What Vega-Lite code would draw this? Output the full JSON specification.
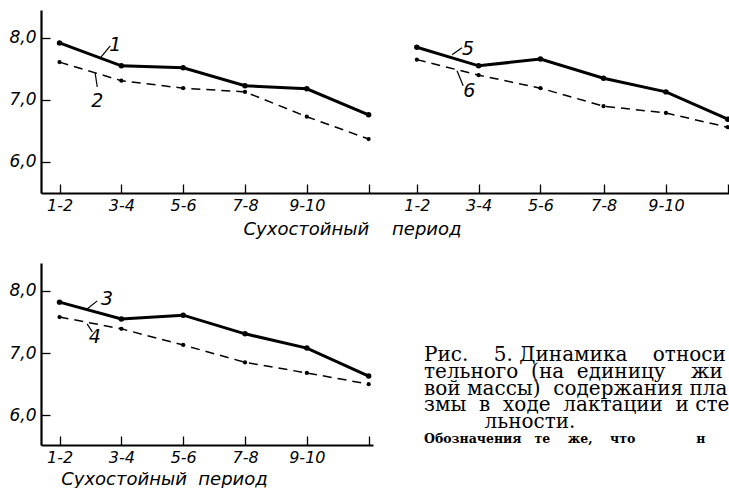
{
  "$schema": "https://vega.github.io/schema/vega-lite/v6.json",
  "padding": {"left": 8, "top": 10, "right": 0, "bottom": 0},
  "background": "white",
  "config": {
    "view": {"stroke": null},
    "axis": {
      "grid": false, "domainColor": "black", "domainWidth": 2.2,
      "tickColor": "black", "tickWidth": 1.3, "tickSize": -9,
      "labelFont": "DejaVu Sans", "labelFontStyle": "italic", "labelColor": "black",
      "labelFlush": false, "labelOverlap": false,
      "titleFont": "DejaVu Sans", "titleFontStyle": "italic", "titleFontWeight": "normal", "titleColor": "black"
    }
  },
  "datasets": {
    "top": [
      {"s": "1", "t": 0, "v": 7.92}, {"s": "1", "t": 1, "v": 7.55}, {"s": "1", "t": 2, "v": 7.52}, {"s": "1", "t": 3, "v": 7.23}, {"s": "1", "t": 4, "v": 7.18}, {"s": "1", "t": 5, "v": 6.76},
      {"s": "5", "t": 5.78, "v": 7.85}, {"s": "5", "t": 6.78, "v": 7.55}, {"s": "5", "t": 7.78, "v": 7.66}, {"s": "5", "t": 8.8, "v": 7.35}, {"s": "5", "t": 9.81, "v": 7.13}, {"s": "5", "t": 10.81, "v": 6.69}
    ],
    "topD": [
      {"s": "2", "t": 0, "v": 7.61}, {"s": "2", "t": 1, "v": 7.31}, {"s": "2", "t": 2, "v": 7.19}, {"s": "2", "t": 3, "v": 7.13}, {"s": "2", "t": 4, "v": 6.73}, {"s": "2", "t": 5, "v": 6.37},
      {"s": "6", "t": 5.78, "v": 7.65}, {"s": "6", "t": 6.78, "v": 7.40}, {"s": "6", "t": 7.78, "v": 7.19}, {"s": "6", "t": 8.8, "v": 6.90}, {"s": "6", "t": 9.81, "v": 6.79}, {"s": "6", "t": 10.81, "v": 6.56}
    ],
    "topLab": [
      {"label": "1", "t": 0.9, "v": 7.89}, {"label": "2", "t": 0.61, "v": 6.98},
      {"label": "5", "t": 6.61, "v": 7.82}, {"label": "6", "t": 6.63, "v": 7.15}
    ],
    "topLead": [
      {"t": 0.66, "v": 7.68, "t2": 0.82, "v2": 7.87}, {"t": 0.575, "v": 7.44, "t2": 0.61, "v2": 7.21},
      {"t": 6.35, "v": 7.73, "t2": 6.51, "v2": 7.84}, {"t": 6.43, "v": 7.47, "t2": 6.53, "v2": 7.23}
    ],
    "bot": [
      {"s": "3", "t": 0, "v": 7.82}, {"s": "3", "t": 1, "v": 7.55}, {"s": "3", "t": 2, "v": 7.61}, {"s": "3", "t": 3, "v": 7.31}, {"s": "3", "t": 4, "v": 7.08}, {"s": "3", "t": 5, "v": 6.63}
    ],
    "botD": [
      {"s": "4", "t": 0, "v": 7.58}, {"s": "4", "t": 1, "v": 7.39}, {"s": "4", "t": 2, "v": 7.13}, {"s": "4", "t": 3, "v": 6.85}, {"s": "4", "t": 4, "v": 6.68}, {"s": "4", "t": 5, "v": 6.50}
    ],
    "botLab": [
      {"label": "3", "t": 0.77, "v": 7.87}, {"label": "4", "t": 0.57, "v": 7.26}
    ],
    "botLead": [
      {"t": 0.445, "v": 7.71, "t2": 0.61, "v2": 7.84}, {"t": 0.445, "v": 7.47, "t2": 0.53, "v2": 7.34}
    ],
    "caption": [
      {"row": 1, "w": "n", "txt": "Рис.\u00a0\u00a0\u00a0 5. Динамика\u00a0\u00a0\u00a0 относи"},
      {"row": 2, "w": "n", "txt": "тельного\u00a0 (на\u00a0 единицу\u00a0\u00a0\u00a0 жи"},
      {"row": 3, "w": "n", "txt": "вой массы)\u00a0 содержания пла"},
      {"row": 4, "w": "n", "txt": "змы\u00a0 в\u00a0 ходе\u00a0 лактации\u00a0 и сте"},
      {"row": 5, "w": "c", "txt": "льности."},
      {"row": 6, "w": "b", "txt": "Обозначения\u00a0\u00a0 те\u00a0\u00a0\u00a0 же,\u00a0\u00a0\u00a0 что\u00a0\u00a0\u00a0\u00a0\u00a0\u00a0\u00a0\u00a0\u00a0\u00a0\u00a0\u00a0\u00a0 н"}
    ]
  },
  "spacing": 25,
  "vconcat": [
    {
      "width": 688, "height": 183,
      "encoding": {
        "x": {"field": "t", "type": "quantitative",
          "scale": {"domain": [-0.3, 10.83], "nice": false, "zero": false},
          "axis": {"values": [0, 1, 2, 3, 4, 5, 5.78, 6.78, 7.78, 8.8, 9.81, 10.81],
            "labelExpr": "datum.value < 5.5 ? ['1-2','3-4','5-6','7-8','9-10',''][round(datum.value)] : ['1-2','3-4','5-6','7-8','9-10',''][round(datum.value - 5.78)]",
            "labelFontSize": 16, "labelPadding": 13,
            "title": "Сухостойный\u00a0\u00a0\u00a0\u00a0период", "titleFontSize": 18,
            "titleX": 311, "titleY": 41, "titleAlign": "center", "titleBaseline": "alphabetic"}},
        "y": {"field": "v", "type": "quantitative",
          "scale": {"domain": [5.5, 8.45], "nice": false, "zero": false},
          "axis": {"values": [6, 7, 8], "labelExpr": "replace(format(datum.value, '.1f'), '.', ',')",
            "labelFontSize": 17, "labelPadding": 14, "title": null}}
      },
      "layer": [
        {"data": {"name": "top"}, "mark": {"type": "line", "color": "black", "strokeWidth": 3},
          "encoding": {"detail": {"field": "s"}}},
        {"data": {"name": "topD"}, "mark": {"type": "line", "color": "black", "strokeWidth": 1.5, "strokeDash": [9, 6]},
          "encoding": {"detail": {"field": "s"}}},
        {"data": {"name": "top"}, "mark": {"type": "circle", "color": "black", "opacity": 1, "size": 30}, "encoding": {}},
        {"data": {"name": "topD"}, "mark": {"type": "circle", "color": "black", "opacity": 1, "size": 18}, "encoding": {}},
        {"data": {"name": "topLead"}, "mark": {"type": "rule", "color": "black", "strokeWidth": 1.2},
          "encoding": {"x2": {"field": "t2"}, "y2": {"field": "v2"}}},
        {"data": {"name": "topLab"}, "mark": {"type": "text", "font": "DejaVu Sans", "fontStyle": "italic", "fontSize": 19, "color": "black"},
          "encoding": {"text": {"field": "label"}}}
      ]
    },
    {
      "spacing": 49,
      "hconcat": [
        {
          "width": 332, "height": 182,
          "encoding": {
            "x": {"field": "t", "type": "quantitative",
              "scale": {"domain": [-0.3, 5.07], "nice": false, "zero": false},
              "axis": {"values": [0, 1, 2, 3, 4, 5],
                "labelExpr": "['1-2','3-4','5-6','7-8','9-10',''][round(datum.value)]",
                "labelFontSize": 16, "labelPadding": 13,
                "title": "Сухостойный\u00a0\u00a0период", "titleFontSize": 18,
                "titleX": 123, "titleY": 39, "titleAlign": "center", "titleBaseline": "alphabetic"}},
            "y": {"field": "v", "type": "quantitative",
              "scale": {"domain": [5.52, 8.45], "nice": false, "zero": false},
              "axis": {"values": [6, 7, 8], "labelExpr": "replace(format(datum.value, '.1f'), '.', ',')",
                "labelFontSize": 17, "labelPadding": 14, "title": null}}
          },
          "layer": [
            {"data": {"name": "bot"}, "mark": {"type": "line", "color": "black", "strokeWidth": 3},
              "encoding": {"detail": {"field": "s"}}},
            {"data": {"name": "botD"}, "mark": {"type": "line", "color": "black", "strokeWidth": 1.5, "strokeDash": [9, 6]},
              "encoding": {"detail": {"field": "s"}}},
            {"data": {"name": "bot"}, "mark": {"type": "circle", "color": "black", "opacity": 1, "size": 30}, "encoding": {}},
            {"data": {"name": "botD"}, "mark": {"type": "circle", "color": "black", "opacity": 1, "size": 18}, "encoding": {}},
            {"data": {"name": "botLead"}, "mark": {"type": "rule", "color": "black", "strokeWidth": 1.2},
              "encoding": {"x2": {"field": "t2"}, "y2": {"field": "v2"}}},
            {"data": {"name": "botLab"}, "mark": {"type": "text", "font": "DejaVu Sans", "fontStyle": "italic", "fontSize": 19, "color": "black"},
              "encoding": {"text": {"field": "label"}}}
          ]
        },
        {
          "width": 300, "height": 182,
          "data": {"name": "caption"},
          "encoding": {
            "y": {"field": "row", "type": "quantitative",
              "scale": {"domain": [-4.49, 6.37], "reverse": true, "nice": false, "zero": false}, "axis": null},
            "text": {"field": "txt"}
          },
          "layer": [
            {"transform": [{"filter": "datum.w == 'n'"}],
              "mark": {"type": "text", "align": "left", "baseline": "middle", "font": "DejaVu Serif", "fontSize": 20, "color": "black"},
              "encoding": {"x": {"value": 0}}},
            {"transform": [{"filter": "datum.w == 'c'"}],
              "mark": {"type": "text", "align": "center", "baseline": "middle", "font": "DejaVu Serif", "fontSize": 20, "color": "black"},
              "encoding": {"x": {"value": 106}}},
            {"transform": [{"filter": "datum.w == 'b'"}],
              "mark": {"type": "text", "align": "left", "baseline": "middle", "font": "DejaVu Serif", "fontSize": 12.5, "fontWeight": "bold", "color": "black"},
              "encoding": {"x": {"value": 0}}}
          ]
        }
      ]
    }
  ]
}
